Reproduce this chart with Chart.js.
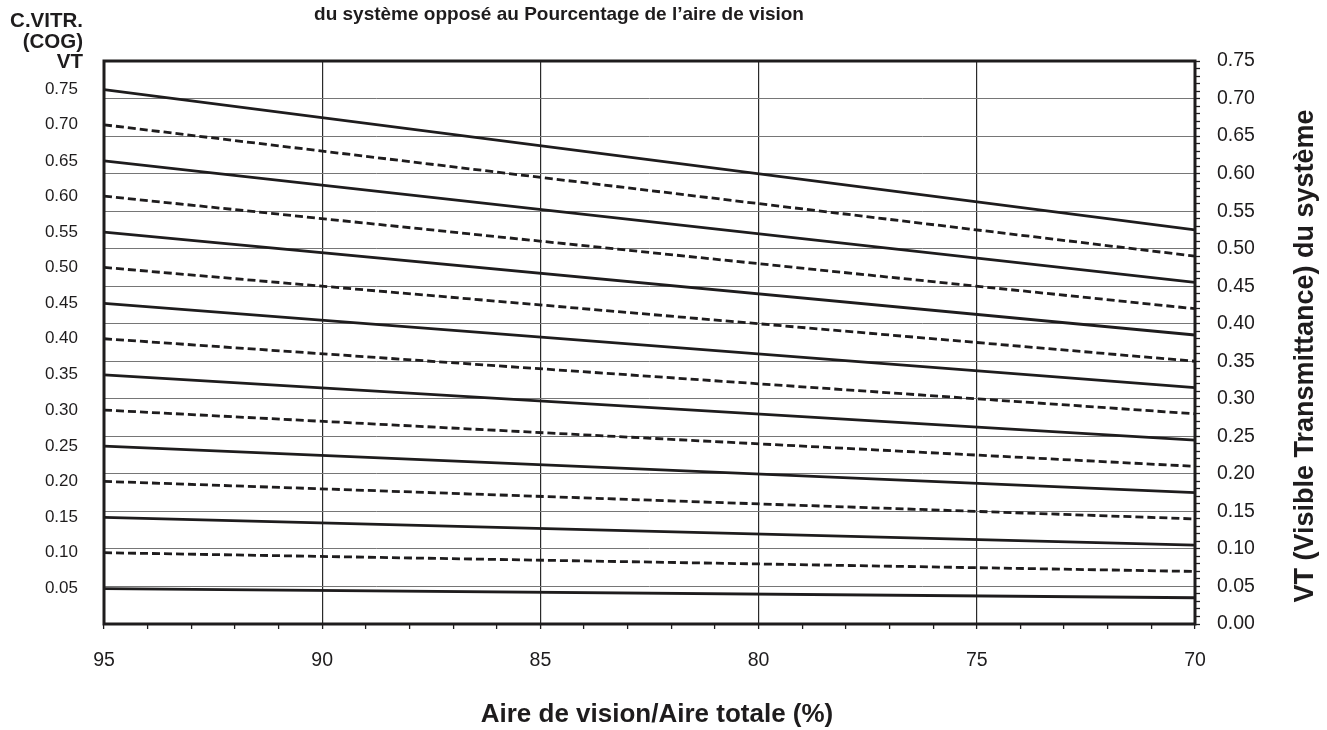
<!DOCTYPE html>
<html lang="fr">
<head>
<meta charset="utf-8">
<title>VT du système opposé au pourcentage de l'aire de vision</title>
<script src="https://cdn.jsdelivr.net/npm/chart.js@4.4.1/dist/chart.umd.min.js"></script>
<style>
  html, body { margin: 0; padding: 0; background: #fff; }
  #wrap { width: 1327px; height: 730px; }
</style>
</head>
<body>
<div id="wrap"><canvas id="vtChart" width="1327" height="730"></canvas></div>
<script>
// données
const aireVision = [95, 70];
const cogValues = [0.75, 0.70, 0.65, 0.60, 0.55, 0.50, 0.45, 0.40, 0.35, 0.30, 0.25, 0.20, 0.15, 0.10, 0.05];
const vtAt95 = [0.712, 0.665, 0.617, 0.570, 0.522, 0.475, 0.427, 0.380, 0.332, 0.285, 0.237, 0.190, 0.142, 0.095, 0.047];
const vtAt70 = [0.525, 0.490, 0.455, 0.420, 0.385, 0.350, 0.315, 0.280, 0.245, 0.210, 0.175, 0.140, 0.105, 0.070, 0.035];
const xTickLabels = [95, 90, 85, 80, 75, 70];
const rightTickLabels = ['0.00', '0.05', '0.10', '0.15', '0.20', '0.25', '0.30', '0.35',
  '0.40', '0.45', '0.50', '0.55', '0.60', '0.65', '0.70', '0.75'];

const titleText = 'du système opposé au Pourcentage de l’aire de vision';
const xTitle = 'Aire de vision/Aire totale (%)';
const yTitle = 'VT (Visible Transmittance) du système';
const headerLines = ['C.VITR.', '(COG)', 'VT'];

const INK = '#1e1c1d';
const FONT = "'Liberation Sans', Arial, Helvetica, sans-serif";

// une ligne par valeur de COG (pleine / pointillée en alternance)
const datasets = cogValues.map((cog, i) => ({
    label: 'COG ' + cog.toFixed(2),
    data: [
        { x: aireVision[0], y: vtAt95[i] },
        { x: aireVision[1], y: vtAt70[i] }
    ],
    yAxisID: 'yR',
    borderColor: INK,
    borderWidth: 2.8,
    borderDash: i % 2 ? [8, 4] : [],
    pointRadius: 0,
    tension: 0,
    fill: false
}));

// cadre + textes (titre, en-tête gauche, titre de l'axe droit)
const decorPlugin = {
    id: 'decor',
    afterDraw(chart) {
        const { ctx, chartArea: a } = chart;
        ctx.save();
        ctx.strokeStyle = INK;
        ctx.lineWidth = 3;
        ctx.strokeRect(a.left, a.top, a.right - a.left, a.bottom - a.top);

        ctx.fillStyle = INK;
        ctx.textBaseline = 'alphabetic';

        ctx.font = `bold 19px ${FONT}`;
        ctx.textAlign = 'center';
        ctx.fillText(titleText, 559, 20);

        ctx.font = `bold 20.5px ${FONT}`;
        ctx.textAlign = 'right';
        ctx.fillText(headerLines[0], 83, 27);
        ctx.fillText(headerLines[1], 83, 48);
        ctx.fillText(headerLines[2], 83, 68);

        ctx.font = `bold 26px ${FONT}`;
        ctx.textAlign = 'center';
        ctx.fillText(xTitle, 657, 722);

        ctx.font = `bold 27px ${FONT}`;
        ctx.translate(1313, 356);
        ctx.rotate(-Math.PI / 2);
        ctx.fillText(yTitle, 0, 0);
        ctx.restore();
    }
};

const isMajorY = v => rightTickLabels.includes(v.toFixed(2));

new Chart(document.getElementById('vtChart'), {
    type: 'line',
    data: { datasets: datasets },
    options: {
        responsive: false,
        animation: false,
        layout: { padding: { top: 61, left: 0, right: 0, bottom: 0 } },
        plugins: {
            legend: { display: false },
            tooltip: { enabled: false },
            title: { display: false }
        },
        scales: {
            x: {
                type: 'linear',
                reverse: true,
                min: 70,
                max: 95,
                afterFit: s => { s.height = 106; },
                border: { display: false },
                grid: {
                    color: c => (c.tick && xTickLabels.includes(c.tick.value)) ? '#2a2a2a' : 'rgba(0,0,0,0)',
                    lineWidth: 1.2,
                    tickColor: INK,
                    tickWidth: 1.3,
                    tickLength: 5
                },
                ticks: {
                    stepSize: 1,
                    autoSkip: false,
                    maxRotation: 0,
                    padding: 20,
                    color: INK,
                    font: { family: FONT, size: 19.5 },
                    callback: v => xTickLabels.includes(v) ? String(v) : ''
                }
            },
            yL: {
                type: 'linear',
                position: 'left',
                min: 0,
                max: 0.75,
                afterFit: s => { s.width = 104; },
                afterBuildTicks: s => { s.ticks = vtAt95.map(v => ({ value: v })); },
                border: { display: false },
                grid: { display: false, drawTicks: false, tickLength: 0 },
                ticks: {
                    autoSkip: false,
                    padding: 26,
                    color: INK,
                    font: { family: FONT, size: 17 },
                    callback: (v, i) => cogValues[i].toFixed(2)
                }
            },
            yR: {
                type: 'linear',
                position: 'right',
                min: 0,
                max: 0.75,
                afterFit: s => { s.width = 132; },
                border: { display: false },
                grid: {
                    color: c => (c.tick && isMajorY(c.tick.value)) ? '#767676' : 'rgba(0,0,0,0)',
                    lineWidth: 1,
                    tickColor: INK,
                    tickWidth: 1.3,
                    tickLength: 5
                },
                ticks: {
                    stepSize: 0.01,
                    maxTicksLimit: 100,
                    autoSkip: false,
                    padding: 17,
                    color: INK,
                    font: { family: FONT, size: 19.5 },
                    callback: v => isMajorY(v) ? v.toFixed(2) : ''
                }
            }
        }
    },
    plugins: [decorPlugin]
});
</script>
</body>
</html>
